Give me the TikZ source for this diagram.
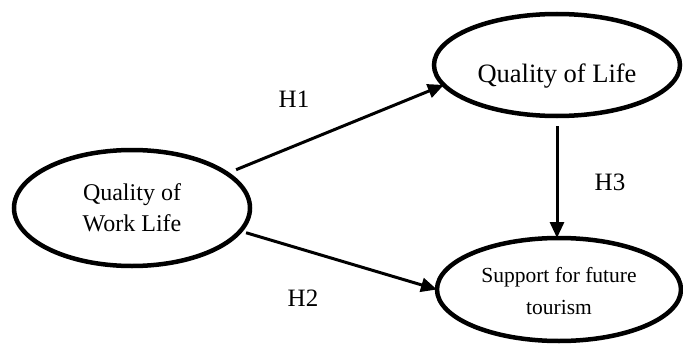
\documentclass[tikz,border=0pt]{standalone}
\usepackage{fontspec}
\setmainfont{Liberation Serif}
\usetikzlibrary{shapes.geometric,arrows.meta}
\begin{document}
\begin{tikzpicture}[x=1pt,y=-1pt,
  oval/.style={ellipse,draw,line width=4.5pt,inner sep=0pt,outer sep=0pt},
  arr/.style={line width=3pt,-{Triangle[length=16pt,width=14pt]}},
  hlab/.style={font=\fontsize{25}{30}\selectfont,anchor=base}]
\useasboundingbox (0,0) rectangle (683,345);
\node[oval,minimum width=236pt,minimum height=116pt,align=center,
  font=\fontsize{24}{31}\selectfont] (wl) at (132,208) {Quality of\\Work Life};
\node[oval,minimum width=246pt,minimum height=102pt] (ql) at (557,65) {};
\node[font=\fontsize{26.5}{30}\selectfont] (qlt) at ([yshift=-11pt]ql.center) {Quality of Life};
\node[oval,minimum width=244pt,minimum height=103pt] (sf) at (559,289.5) {};
\node[font=\fontsize{21.5}{32}\selectfont,align=center] (sft) at ([yshift=-2pt]sf.center) {Support for future\\tourism};
\draw[arr,shorten <=10pt] (wl.20) -- (ql.190);
\draw[arr,shorten <=6pt] (wl.-12.5) -- (sf.180);
\draw[arr,shorten <=10pt] (ql.south) -- (ql.south |- sf.north);
\node[hlab] (h1) at (294,107) {H1};
\node[hlab] (h2) at (303,306) {H2};
\node[hlab] (h3) at (610,190) {H3};
\end{tikzpicture}
\end{document}
